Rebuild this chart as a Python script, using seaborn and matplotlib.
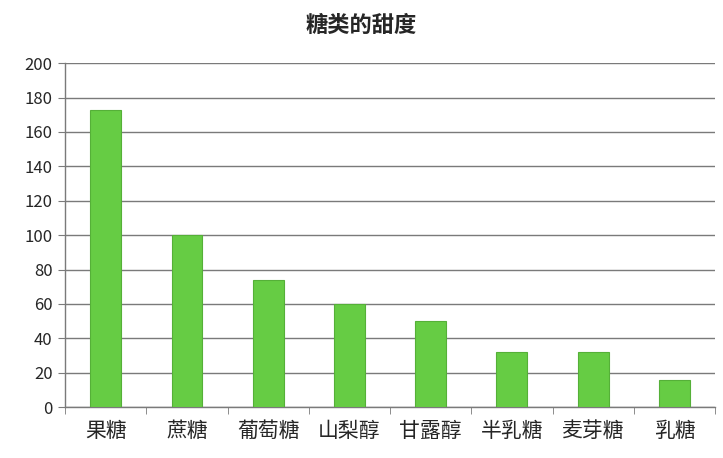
import matplotlib
matplotlib.use("Agg")
import matplotlib.pyplot as plt
import seaborn as sns
import pandas as pd
import numpy as np
from matplotlib.ticker import FixedLocator

sugars = ["果糖", "蔗糖", "葡萄糖", "山梨醇", "甘露醇", "半乳糖", "麦芽糖", "乳糖"]
sweetness = [173, 100, 74, 60, 50, 32, 32, 16]
y_ticks = list(range(0, 201, 20))

df = pd.DataFrame({"sugar": sugars, "sweetness": sweetness})

sns.set_style("white")
plt.rcParams["font.family"] = ["Noto Sans CJK SC", "DejaVu Sans"]

fig = plt.figure(figsize=(7.23, 4.58), dpi=100)
ax = fig.add_axes([0.09, 0.111, 0.899, 0.751])

sns.barplot(data=df, x="sugar", y="sweetness", color="#66cc44", width=0.38,
            saturation=1, edgecolor="#55b038", linewidth=0.8, ax=ax, zorder=3)

ax.set_ylim(0, 200)
ax.set_xlim(-0.5, len(sugars) - 0.5)
ax.set_yticks(y_ticks)
ax.yaxis.grid(True, color="#7a7a7a", linewidth=1.0, zorder=0)
ax.set_axisbelow(True)

ax.set_xlabel("")
ax.set_ylabel("")
ax.tick_params(axis="y", labelsize=12, length=5, color="#7a7a7a", direction="out", left=True, pad=4)
ax.tick_params(axis="x", which="major", labelsize=15, length=0, pad=9)
ax.xaxis.set_minor_locator(FixedLocator(np.arange(-0.5, len(sugars), 1.0)))
ax.tick_params(axis="x", which="minor", length=5, color="#7a7a7a", direction="out", bottom=True)

for side in ["top", "right"]:
    ax.spines[side].set_visible(False)
for side in ["left", "bottom"]:
    ax.spines[side].set_color("#7a7a7a")
    ax.spines[side].set_linewidth(1.0)

fig.suptitle("糖类的甜度", x=0.5, y=0.97, fontsize=16, fontweight="bold")

fig.savefig("out.png", dpi=100)
